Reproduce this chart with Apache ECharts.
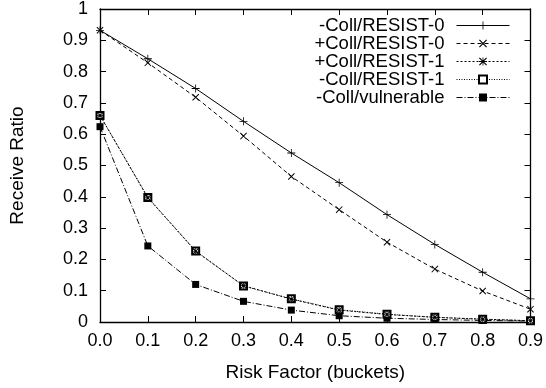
<!DOCTYPE html>
<html>
<head>
<meta charset="utf-8">
<script src="https://cdn.jsdelivr.net/npm/echarts@6/dist/echarts.min.js"></script>
<style>
  html, body { margin: 0; padding: 0; background: #fff; }
  #chart { width: 546px; height: 388px; }
</style>
</head>
<body>
<div id="chart"></div>
<script>
// Risk factor (x) values
const riskFactor = [0.0, 0.1, 0.2, 0.3, 0.4, 0.5, 0.6, 0.7, 0.8, 0.9];
// receive ratio per series
const noCollResist0 = [0.932, 0.841, 0.746, 0.641, 0.540, 0.445, 0.343, 0.248, 0.159, 0.074];
const collResist0 = [0.932, 0.828, 0.718, 0.594, 0.465, 0.359, 0.255, 0.169, 0.099, 0.041];
const collResist1 = [0.660, 0.397, 0.226, 0.116, 0.073, 0.038, 0.024, 0.015, 0.009, 0.004];
const noCollResist1 = [0.660, 0.398, 0.227, 0.115, 0.074, 0.039, 0.025, 0.015, 0.009, 0.004];
const noCollVulnerable = [0.624, 0.243, 0.120, 0.066, 0.038, 0.020, 0.012, 0.008, 0.005, 0.003];

const font = 'Liberation Sans';

// gnuplot-ish point shapes
const plusPath = 'path://M0,4.5H10V5.5H0Z M4.5,0H5.5V10H4.5Z';
const crossPath = 'path://M0,1L1,0L10,9L9,10Z M9,0L10,1L1,10L0,9Z';
const starPath = 'path://M0,4.5H10V5.5H0Z M4.5,0H5.5V10H4.5Z M0,1L1,0L10,9L9,10Z M9,0L10,1L1,10L0,9Z';

function pairs(ys) {
    return riskFactor.map((x, i) => [x, ys[i]]);
}

function mkSeries(name, ys, symbol, size, dash, z) {
    return {
        name: name,
        type: 'line',
        data: pairs(ys),
        symbol: symbol,
        symbolSize: size,
        showAllSymbol: true,
        z: z,
        itemStyle: { color: '#000', borderColor: '#000', borderWidth: symbol === 'emptyRect' ? 1 : 0 },
        lineStyle: { color: '#000', width: 1, type: dash },
        emphasis: { disabled: true },
        animation: false
    };
}

const axisCommon = {
    type: 'value',
    axisLine: { show: true, onZero: false, lineStyle: { color: '#000', width: 1.3 } },
    axisTick: { show: true, inside: true, length: 6, lineStyle: { color: '#000', width: 1 } },
    splitLine: { show: false }
};

let myEchart = echarts.init(document.getElementById('chart'));
myEchart.setOption({
    animation: false,
    textStyle: { fontFamily: font },
    grid: { left: 98, right: 13, top: 7, bottom: 66 },
    legend: {
        orient: 'vertical',
        right: 31,
        top: 11,
        align: 'right',
        itemWidth: 53,
        itemHeight: 10,
        itemGap: -1,
        lineStyle: { width: 1 },
        textStyle: { fontFamily: font, fontSize: 18.5, color: '#000', lineHeight: 18, padding: [0, 7, 0, 0] },
        data: ['-Coll/RESIST-0', '+Coll/RESIST-0', '+Coll/RESIST-1', '-Coll/RESIST-1', '-Coll/vulnerable']
    },
    xAxis: [
        Object.assign({}, axisCommon, {
            position: 'bottom',
            min: 0, max: 0.9, interval: 0.1,
            name: 'Risk Factor (buckets)',
            nameLocation: 'middle',
            nameGap: 41,
            nameTextStyle: { fontFamily: font, fontSize: 19, color: '#000' },
            axisLabel: {
                color: '#000', fontSize: 18, fontFamily: font, margin: 10,
                formatter: v => v.toFixed(1)
            }
        }),
        Object.assign({}, axisCommon, {
            position: 'top',
            min: 0, max: 0.9, interval: 0.1,
            axisLabel: { show: false }
        })
    ],
    yAxis: [
        Object.assign({}, axisCommon, {
            position: 'left',
            min: 0, max: 1, interval: 0.1,
            name: 'Receive Ratio',
            nameLocation: 'middle',
            nameGap: 73,
            nameTextStyle: { fontFamily: font, fontSize: 19, color: '#000' },
            axisLabel: { color: '#000', fontSize: 18, fontFamily: font, margin: 12 }
        }),
        Object.assign({}, axisCommon, {
            position: 'right',
            min: 0, max: 1, interval: 0.1,
            axisLabel: { show: false }
        })
    ],
    series: [
        mkSeries('-Coll/RESIST-0', noCollResist0, plusPath, 8, 'solid', 2),
        mkSeries('+Coll/RESIST-0', collResist0, crossPath, 7, [4, 3], 2),
        mkSeries('+Coll/RESIST-1', collResist1, starPath, 7, [2, 2], 4),
        mkSeries('-Coll/RESIST-1', noCollResist1, 'emptyRect', 7, [1, 1.5], 3),
        mkSeries('-Coll/vulnerable', noCollVulnerable, 'rect', 7, [6, 2, 1, 2], 2)
    ]
});
window.addEventListener('resize', function () {
    myEchart.resize();
});
</script>
</body>
</html>
